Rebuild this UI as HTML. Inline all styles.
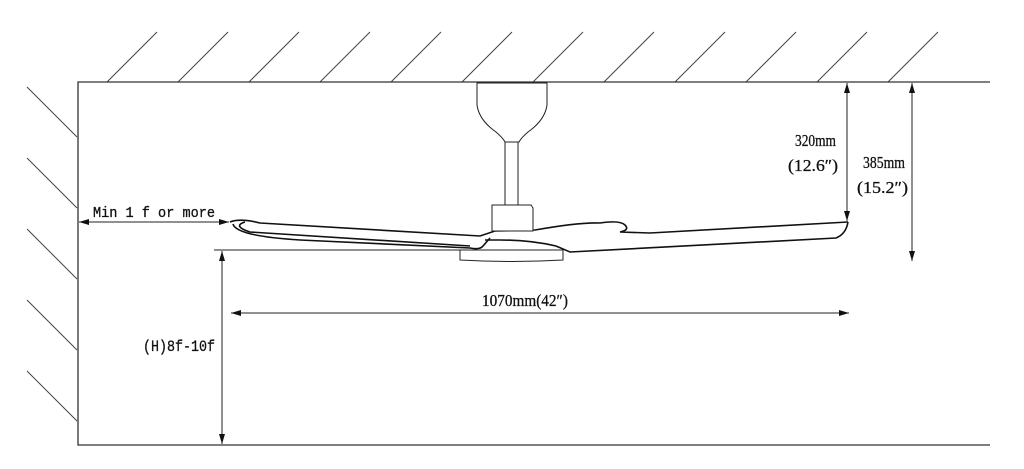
<!DOCTYPE html>
<html><head><meta charset="utf-8"><style>
html,body{margin:0;padding:0;background:#fff;}
svg{display:block}
text{font-family:"Liberation Serif",serif;fill:#111;}
</style></head><body>
<svg width="1024" height="469" viewBox="0 0 1024 469" xmlns="http://www.w3.org/2000/svg">
<defs>
<marker id="a" viewBox="0 0 10 6" refX="10" refY="3" markerWidth="10" markerHeight="6" markerUnits="userSpaceOnUse" orient="auto-start-reverse"><path d="M0,0 L10,3 L0,6 z" fill="#111"/></marker>
</defs>
<g stroke="#444" stroke-width="1" fill="none">
<path d="M107,82 L157,32 M178,82 L228,32 M249,82 L299,32 M320,82 L370,32 M391,82 L441,32 M462,82 L512,32 M533,82 L583,32 M604,82 L654,32 M675,82 L725,32 M746,82 L796,32 M817,82 L867,32 M888,82 L938,32"/>
<path d="M27,87 L77,137 M27,158 L77,208 M27,229 L77,279 M27,300 L77,350 M27,371 L77,421"/>
</g>
<g stroke="#333" stroke-width="1.3" fill="none">
<path d="M990,82 L78,82 L78,445 L990,445"/>
</g>
<g stroke="#111" stroke-width="1.6" fill="none">
<path d="M230,222 Q240,218 260,223 L480,236 L495,231 L535,230 Q580,222 600,223 Q620,220 625,225 Q630,230 620,232 L650,233 L848,222"/>
<path d="M233,224 Q236,236 300,240 L470,248 Q480,250 483,246 L490,238"/>
<path d="M245,222 Q232,226 250,232 L470,246"/>
<path d="M848,222 Q846,234 836,238 L570,252 L556,246 Q530,240 500,240 L485,240"/>
</g>
<g stroke="#222" stroke-width="1" fill="#fff">
<path d="M477,83 L547,83 L547,105 Q545,120 528,132 Q521,138 519,142 L505,142 Q503,138 496,132 Q479,120 477,105 Z"/>
<rect x="505" y="142" width="13" height="63"/>
<path d="M492,205 L531,205 L533,208 L533,231 L492,231 L492,208 Z"/>
<path d="M460,250 L563,250 L563,260 Q512,263 460,260 Z"/>
</g>
<g stroke="#222" stroke-width="1" fill="none">
<line x1="79" y1="222" x2="229" y2="222" marker-start="url(#a)" marker-end="url(#a)"/>
<line x1="214" y1="250" x2="460" y2="250"/>
<line x1="222" y1="251" x2="222" y2="444" marker-start="url(#a)" marker-end="url(#a)"/>
<line x1="231" y1="313" x2="849" y2="313" marker-start="url(#a)" marker-end="url(#a)"/>
<line x1="847" y1="83" x2="847" y2="221" marker-start="url(#a)" marker-end="url(#a)"/>
<line x1="912" y1="83" x2="912" y2="261" marker-start="url(#a)" marker-end="url(#a)"/>
</g>
<g font-size="17" stroke="#111" stroke-width="0.3">
<text x="93" y="217" style="font-family:'Liberation Mono',monospace" font-size="15" textLength="122" lengthAdjust="spacingAndGlyphs">Min 1 f or more</text>
<text x="143" y="351" style="font-family:'Liberation Mono',monospace" font-size="16" textLength="72" lengthAdjust="spacingAndGlyphs">(H)8f-10f</text>
<text x="482" y="306" textLength="86" lengthAdjust="spacingAndGlyphs">1070mm(42″)</text>
<text x="795" y="146" textLength="41" lengthAdjust="spacingAndGlyphs">320mm</text>
<text x="788" y="171" textLength="50" lengthAdjust="spacingAndGlyphs">(12.6″)</text>
<text x="863" y="168" textLength="42" lengthAdjust="spacingAndGlyphs">385mm</text>
<text x="857" y="193" textLength="51" lengthAdjust="spacingAndGlyphs">(15.2″)</text>
</g>
</svg>
</body></html>
